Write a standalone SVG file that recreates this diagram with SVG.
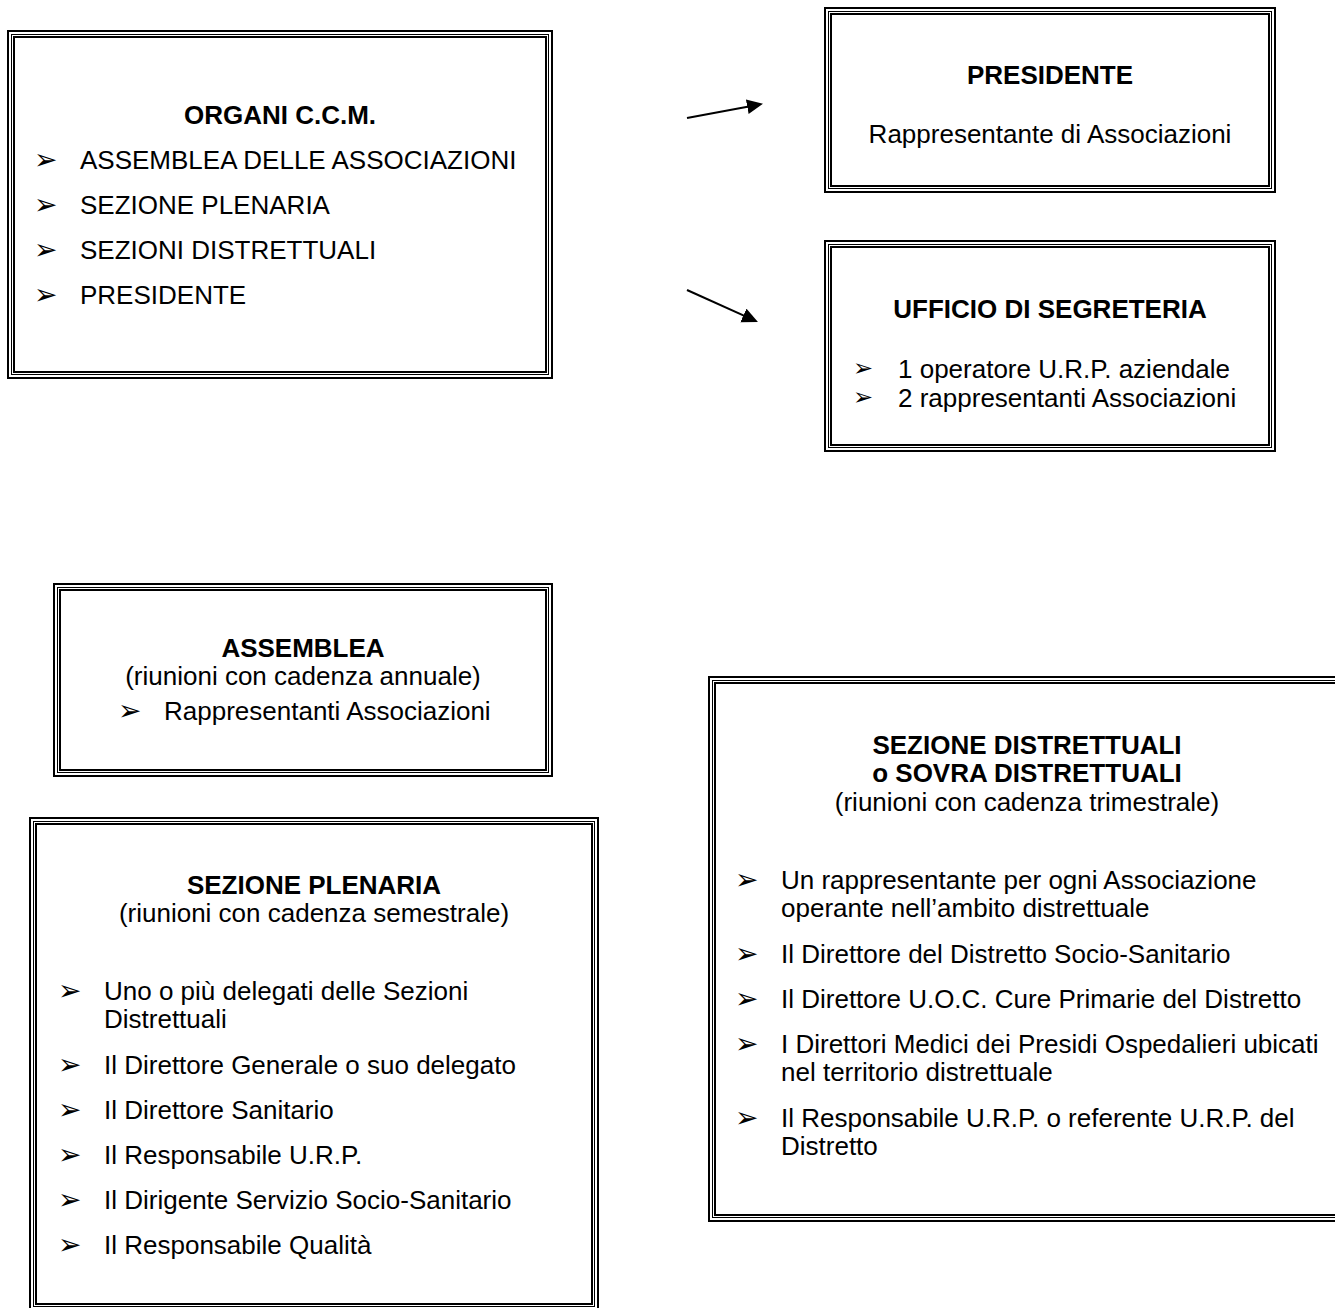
<svg xmlns="http://www.w3.org/2000/svg" width="1335" height="1308" viewBox="0 0 1335 1308">
<style>
.o{fill:none;stroke:#000;stroke-width:2}
.m{fill:none;stroke:#000;stroke-width:1}
.i{fill:none;stroke:#000;stroke-width:2}
text{font-family:"Liberation Sans",Arial,sans-serif;font-size:26px;fill:#000}
.b{font-weight:bold}
.c{text-anchor:middle}
.bl{font-family:"DejaVu Sans",sans-serif;font-size:28px}
.bs{font-family:"DejaVu Sans",sans-serif;font-size:24px}
.ar{stroke:#000;stroke-width:2;fill:none}
</style>
<defs>
<marker id="ah" markerUnits="userSpaceOnUse" markerWidth="18" markerHeight="16" refX="3" refY="7.5" orient="auto" viewBox="0 0 18 16">
<path d="M0,0 L16,7.5 L0,15 z" fill="#000"/>
</marker>
</defs>
<rect width="1335" height="1308" fill="#fff"/>

<g id="organi">
<rect class="o" x="8" y="31" width="544" height="347"/>
<rect class="m" x="11.5" y="34.5" width="537" height="340"/>
<rect class="i" x="14" y="37" width="532" height="335"/>
<text class="b c" x="280" y="124">ORGANI C.C.M.</text>
<text class="bl" x="34" y="169">➢</text><text x="80" y="169">ASSEMBLEA DELLE ASSOCIAZIONI</text>
<text class="bl" x="34" y="214">➢</text><text x="80" y="214">SEZIONE PLENARIA</text>
<text class="bl" x="34" y="259">➢</text><text x="80" y="259">SEZIONI DISTRETTUALI</text>
<text class="bl" x="34" y="304">➢</text><text x="80" y="304">PRESIDENTE</text>
</g>

<g id="presidente">
<rect class="o" x="825" y="8" width="450" height="184"/>
<rect class="m" x="828.5" y="11.5" width="443" height="177"/>
<rect class="i" x="831" y="14" width="438" height="172"/>
<text class="b c" x="1050" y="84">PRESIDENTE</text>
<text class="c" x="1050" y="143">Rappresentante di Associazioni</text>
</g>

<g id="ufficio">
<rect class="o" x="825" y="241" width="450" height="210"/>
<rect class="m" x="828.5" y="244.5" width="443" height="203"/>
<rect class="i" x="831" y="247" width="438" height="198"/>
<text class="b c" x="1050" y="318">UFFICIO DI SEGRETERIA</text>
<text class="bs" x="853" y="376">➢</text><text x="898" y="378">1 operatore U.R.P. aziendale</text>
<text class="bs" x="853" y="405">➢</text><text x="898" y="407">2 rappresentanti Associazioni</text>
</g>

<g id="assemblea">
<rect class="o" x="54" y="584" width="498" height="192"/>
<rect class="m" x="57.5" y="587.5" width="491" height="185"/>
<rect class="i" x="60" y="590" width="486" height="180"/>
<text class="b c" x="303" y="657">ASSEMBLEA</text>
<text class="c" x="303" y="685">(riunioni con cadenza annuale)</text>
<text class="bl" x="118" y="720">➢</text><text x="164" y="720">Rappresentanti Associazioni</text>
</g>

<g id="plenaria">
<rect class="o" x="30" y="818" width="568" height="492"/>
<rect class="m" x="33.5" y="821.5" width="561" height="485"/>
<rect class="i" x="36" y="824" width="556" height="480"/>
<text class="b c" x="314" y="894">SEZIONE PLENARIA</text>
<text class="c" x="314" y="922">(riunioni con cadenza semestrale)</text>
<text class="bl" x="58" y="1000">➢</text><text x="104" y="1000">Uno o più delegati delle Sezioni</text>
<text x="104" y="1028">Distrettuali</text>
<text class="bl" x="58" y="1074">➢</text><text x="104" y="1074">Il Direttore Generale o suo delegato</text>
<text class="bl" x="58" y="1119">➢</text><text x="104" y="1119">Il Direttore Sanitario</text>
<text class="bl" x="58" y="1164">➢</text><text x="104" y="1164">Il Responsabile U.R.P.</text>
<text class="bl" x="58" y="1209">➢</text><text x="104" y="1209">Il Dirigente Servizio Socio-Sanitario</text>
<text class="bl" x="58" y="1254">➢</text><text x="104" y="1254">Il Responsabile Qualità</text>
</g>

<g id="distrettuali">
<rect class="o" x="709" y="677" width="636" height="544"/>
<rect class="m" x="712.5" y="680.5" width="629" height="537"/>
<rect class="i" x="715" y="683" width="624" height="532"/>
<text class="b c" x="1027" y="754">SEZIONE DISTRETTUALI</text>
<text class="b c" x="1027" y="782">o SOVRA DISTRETTUALI</text>
<text class="c" x="1027" y="811">(riunioni con cadenza trimestrale)</text>
<text class="bl" x="735" y="889">➢</text><text x="781" y="889">Un rappresentante per ogni Associazione</text>
<text x="781" y="917">operante nell’ambito distrettuale</text>
<text class="bl" x="735" y="963">➢</text><text x="781" y="963">Il Direttore del Distretto Socio-Sanitario</text>
<text class="bl" x="735" y="1008">➢</text><text x="781" y="1008">Il Direttore U.O.C. Cure Primarie del Distretto</text>
<text class="bl" x="735" y="1053">➢</text><text x="781" y="1053">I Direttori Medici dei Presidi Ospedalieri ubicati</text>
<text x="781" y="1081">nel territorio distrettuale</text>
<text class="bl" x="735" y="1127">➢</text><text x="781" y="1127">Il Responsabile U.R.P. o referente U.R.P. del</text>
<text x="781" y="1155">Distretto</text>
</g>

<g id="connectors">
<line class="ar" x1="687" y1="118" x2="750.2" y2="106.2" marker-end="url(#ah)"/>
<line class="ar" x1="687" y1="290" x2="746.1" y2="316.7" marker-end="url(#ah)"/>
</g>
</svg>
